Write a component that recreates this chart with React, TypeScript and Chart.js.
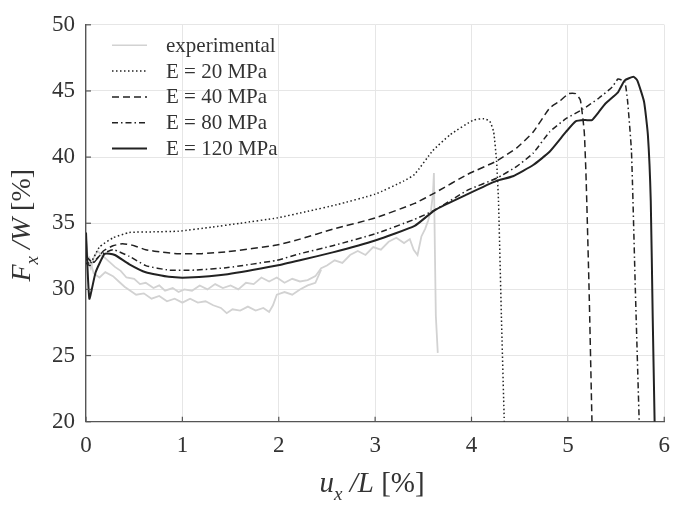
import React, { useEffect, useRef } from 'react';
import { Chart, registerables, Plugin } from 'chart.js';

Chart.register(...registerables);

// experimental curves (two specimens, grey)
const expAX = [0, 0.02, 0.05, 0.08, 0.12, 0.18, 0.24, 0.3, 0.36, 0.42, 0.5, 0.56, 0.62, 0.7, 0.76, 0.82, 0.9, 0.96, 1.02, 1.1, 1.18, 1.26, 1.34, 1.42, 1.5, 1.58, 1.66, 1.74, 1.82, 1.9, 1.98, 2.06, 2.14, 2.22, 2.3, 2.38, 2.44, 2.5, 2.58, 2.66, 2.74, 2.82, 2.9, 2.98, 3.06, 3.14, 3.22, 3.3, 3.36, 3.4, 3.44, 3.48, 3.52, 3.55, 3.58, 3.6, 3.61, 3.62, 3.63, 3.65];
const expAY = [33.8, 32.2, 31.6, 32.4, 32.9, 32.5, 32.1, 31.7, 31.4, 30.9, 30.8, 30.4, 30.5, 30.1, 30.3, 29.9, 30.1, 29.8, 30.0, 29.9, 30.3, 30.0, 30.4, 30.1, 30.3, 30.0, 30.5, 30.4, 30.9, 30.6, 30.9, 30.5, 30.8, 30.6, 30.7, 31.0, 31.6, 31.8, 32.2, 32.0, 32.6, 32.9, 32.6, 33.2, 33.0, 33.6, 33.9, 33.5, 33.8, 33.0, 32.6, 34.0, 34.6, 35.2, 36.0, 37.2, 38.8, 33.0, 28.0, 25.2];
const expBX = [0.03, 0.08, 0.14, 0.2, 0.28, 0.34, 0.4, 0.46, 0.52, 0.6, 0.68, 0.76, 0.84, 0.92, 1.0, 1.08, 1.16, 1.24, 1.32, 1.4, 1.46, 1.52, 1.6, 1.68, 1.76, 1.84, 1.9, 1.94, 1.98, 2.06, 2.14, 2.22, 2.3, 2.38, 2.44];
const expBY = [32.5, 31.2, 30.9, 31.3, 31.0, 30.6, 30.2, 29.9, 29.6, 29.7, 29.3, 29.5, 29.1, 29.3, 29.0, 29.3, 29.0, 29.1, 28.8, 28.6, 28.2, 28.5, 28.4, 28.7, 28.4, 28.6, 28.3, 28.8, 29.6, 29.8, 29.6, 30.0, 30.3, 30.5, 31.5];

// simulations
const e20X = [0, 0.04, 0.14, 0.28, 0.45, 0.7, 0.96, 1.3, 1.6, 1.98, 2.3, 2.6, 3.0, 3.3, 3.41, 3.6, 3.78, 4.02, 4.13, 4.19, 4.23, 4.26, 4.28, 4.31, 4.34];
const e20Y = [32.3, 31.9, 33.2, 33.9, 34.3, 34.35, 34.4, 34.7, 35.0, 35.4, 35.9, 36.4, 37.2, 38.2, 38.7, 40.5, 41.7, 42.8, 42.9, 42.7, 41.9, 39.7, 36.7, 28, 20];

const e40X = [0, 0.075, 0.18, 0.28, 0.38, 0.5, 0.62, 0.8, 0.96, 1.2, 1.47, 1.98, 2.22, 2.56, 3.0, 3.41, 3.62, 3.96, 4.26, 4.47, 4.64, 4.81, 4.91, 5.01, 5.08, 5.13, 5.17, 5.19, 5.22, 5.25];
const e40Y = [32.5, 32.0, 32.9, 33.3, 33.45, 33.3, 33.0, 32.8, 32.7, 32.7, 32.85, 33.35, 33.8, 34.55, 35.4, 36.5, 37.3, 38.7, 39.7, 40.7, 41.9, 43.7, 44.2, 44.8, 44.8, 44.3, 41.9, 38.2, 30, 20];

const e80X = [0, 0.04, 0.15, 0.28, 0.45, 0.62, 0.86, 1.13, 1.47, 1.98, 2.22, 2.56, 3.0, 3.41, 3.62, 3.96, 4.26, 4.47, 4.64, 4.81, 4.98, 5.15, 5.32, 5.46, 5.52, 5.59, 5.62, 5.66, 5.7, 5.74];
const e80Y = [32.0, 31.8, 32.6, 33.0, 32.5, 31.8, 31.46, 31.46, 31.65, 32.2, 32.7, 33.3, 34.2, 35.3, 36.0, 37.5, 38.4, 39.3, 40.3, 41.9, 42.9, 43.6, 44.45, 45.3, 45.9, 45.7, 44.2, 40.4, 30, 20];

const e120X = [0, 0.035, 0.1, 0.19, 0.245, 0.3, 0.45, 0.62, 0.86, 1.06, 1.47, 1.98, 2.22, 2.56, 3.0, 3.41, 3.62, 3.96, 4.26, 4.43, 4.64, 4.81, 4.98, 5.08, 5.18, 5.25, 5.32, 5.39, 5.52, 5.59, 5.68, 5.72, 5.79, 5.83, 5.86, 5.88, 5.9];
const e120Y = [34.3, 29.3, 31.3, 32.66, 32.7, 32.6, 31.9, 31.3, 30.95, 30.9, 31.15, 31.8, 32.2, 32.8, 33.7, 34.8, 36.0, 37.2, 38.2, 38.55, 39.4, 40.4, 41.9, 42.7, 42.8, 42.8, 43.4, 44.05, 44.9, 45.8, 46.07, 45.8, 44.2, 41.7, 36.7, 28, 20];

const legendLabels = ['experimental', 'E = 20 MPa', 'E = 40 MPa', 'E = 80 MPa', 'E = 120 MPa'];
const xTicks = [0, 1, 2, 3, 4, 5, 6];
const yTicks = [20, 25, 30, 35, 40, 45, 50];

const toPoints = (xs: number[], ys: number[]) => xs.map((x, i) => ({ x, y: ys[i] }));

const SERIF = '"Liberation Serif", "DejaVu Serif", serif';
const GREY = '#d2d2d2';
const INK = '#222';

const legendStyles = [
  { color: GREY, width: 1.5, dash: [] as number[] },
  { color: INK, width: 1.5, dash: [1.5, 2.5] },
  { color: INK, width: 1.5, dash: [7, 4] },
  { color: INK, width: 1.5, dash: [6, 3, 1.5, 3] },
  { color: INK, width: 2, dash: [] as number[] },
];

// draws inward ticks, legend and the axis titles with subscripts
const overlayPlugin: Plugin = {
  id: 'overlay',
  afterDraw(chart) {
    const { ctx, chartArea, scales } = chart;
    const { left, top, right, bottom } = chartArea;
    ctx.save();

    // inward tick marks
    ctx.strokeStyle = '#555';
    ctx.lineWidth = 1.2;
    ctx.setLineDash([]);
    xTicks.forEach(v => {
      const px = scales.x.getPixelForValue(v);
      ctx.beginPath();
      ctx.moveTo(px, bottom);
      ctx.lineTo(px, bottom - 5);
      ctx.stroke();
    });
    yTicks.forEach(v => {
      const py = scales.y.getPixelForValue(v);
      ctx.beginPath();
      ctx.moveTo(left, py);
      ctx.lineTo(left + 5, py);
      ctx.stroke();
    });

    // legend
    ctx.font = `21px ${SERIF}`;
    ctx.fillStyle = '#333';
    ctx.textBaseline = 'middle';
    ctx.textAlign = 'left';
    legendLabels.forEach((label, i) => {
      const y = top + 20.5 + i * 25.8;
      const s = legendStyles[i];
      ctx.strokeStyle = s.color;
      ctx.lineWidth = s.width;
      ctx.setLineDash(s.dash);
      ctx.beginPath();
      ctx.moveTo(left + 26, y);
      ctx.lineTo(left + 61, y);
      ctx.stroke();
      ctx.fillText(label, left + 80, y + 1);
    });
    ctx.setLineDash([]);

    // axis titles
    const parts = (main: string, sub: string, mid: string, tail: string, size: number) => [
      { t: main, f: `italic ${size}px ${SERIF}`, dy: 0 },
      { t: sub, f: `italic ${Math.round(size * 0.67)}px ${SERIF}`, dy: 8 },
      { t: mid, f: `italic ${size}px ${SERIF}`, dy: 0 },
      { t: tail, f: `${size}px ${SERIF}`, dy: 0 },
    ];
    const drawTitle = (segs: { t: string; f: string; dy: number }[], cx: number, cy: number, rot: number) => {
      ctx.save();
      ctx.translate(cx, cy);
      ctx.rotate(rot);
      ctx.textBaseline = 'alphabetic';
      ctx.fillStyle = '#333';
      let total = 0;
      segs.forEach(s => { ctx.font = s.f; total += ctx.measureText(s.t).width; });
      let x = -total / 2;
      segs.forEach(s => {
        ctx.font = s.f;
        ctx.fillText(s.t, x, s.dy);
        x += ctx.measureText(s.t).width;
      });
      ctx.restore();
    };
    drawTitle(parts('u', 'x', ' /L', ' [%]', 29), (left + right) / 2 - 3, 492, 0);
    drawTitle(parts('F', 'x', ' /W', ' [%]', 28), 30, (top + bottom) / 2 + 2, -Math.PI / 2);

    ctx.restore();
  },
};

const App: React.FC = () => {
  const chartRef = useRef<HTMLCanvasElement>(null);
  const chartInstance = useRef<Chart | null>(null);

  useEffect(() => {
    document.body.style.margin = '0';
    if (!chartRef.current) return;
    if (chartInstance.current) chartInstance.current.destroy();

    const line = (data: { x: number; y: number }[], color: string, width: number, dash: number[], tension = 0.15) => ({
      data,
      borderColor: color,
      borderWidth: width,
      borderDash: dash,
      pointRadius: 0,
      tension,
      fill: false,
    });

    chartInstance.current = new Chart(chartRef.current, {
      type: 'line',
      data: {
        datasets: [
          { label: legendLabels[4], ...line(toPoints(e120X, e120Y), INK, 2, []) },
          { label: legendLabels[3], ...line(toPoints(e80X, e80Y), INK, 1.5, [6, 3, 1.5, 3]) },
          { label: legendLabels[2], ...line(toPoints(e40X, e40Y), INK, 1.5, [7, 4]) },
          { label: legendLabels[1], ...line(toPoints(e20X, e20Y), INK, 1.5, [1.5, 2.5]) },
          { label: legendLabels[0], ...line(toPoints(expAX, expAY), GREY, 1.8, [], 0) },
          { label: 'experimental 2', ...line(toPoints(expBX, expBY), GREY, 1.8, [], 0) },
        ],
      },
      options: {
        animation: false,
        responsive: true,
        maintainAspectRatio: false,
        layout: { padding: { top: 22.7, right: 6.7, left: 0, bottom: 0 } },
        scales: {
          x: {
            type: 'linear',
            min: 0,
            max: 6,
            afterFit: (scale: any) => { scale.height = 85.3; },
            afterBuildTicks: (scale: any) => { scale.ticks = xTicks.map(v => ({ value: v })); },
            ticks: { font: { family: SERIF, size: 23 }, color: '#333', padding: 10 },
            grid: { color: '#e6e6e6', lineWidth: 1, drawTicks: false },
            border: { color: '#555', width: 1.3 },
          },
          y: {
            type: 'linear',
            min: 20,
            max: 50,
            afterFit: (scale: any) => { scale.width = 86; },
            afterBuildTicks: (scale: any) => { scale.ticks = yTicks.map(v => ({ value: v })); },
            ticks: { font: { family: SERIF, size: 23 }, color: '#333', padding: 11 },
            grid: { color: '#e6e6e6', lineWidth: 1, drawTicks: false },
            border: { color: '#555', width: 1.3 },
          },
        },
        plugins: {
          legend: { display: false },
          tooltip: { enabled: false },
        },
      },
      plugins: [overlayPlugin],
    });

    return () => {
      if (chartInstance.current) {
        chartInstance.current.destroy();
        chartInstance.current = null;
      }
    };
  }, []);

  return (
    <div style={{ width: 680, height: 507, position: 'relative', background: '#fff' }}>
      <canvas ref={chartRef} />
    </div>
  );
};

export default App;
